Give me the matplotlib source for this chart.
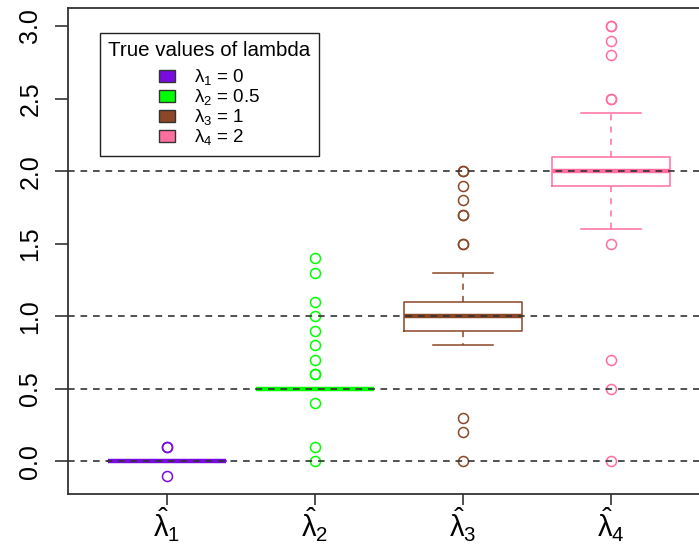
import matplotlib
matplotlib.use("Agg")
import matplotlib.pyplot as plt
from matplotlib.patches import Patch

plt.rcParams['font.family'] = ['Liberation Sans', 'DejaVu Sans']
plt.rcParams['mathtext.fontset'] = 'custom'
plt.rcParams['mathtext.rm'] = 'Liberation Sans'
plt.rcParams['mathtext.it'] = 'Liberation Sans:italic'

# true values of lambda and box colours
true_values = [0, 0.5, 1, 2]
colors = ['#7A0BE0', '#00FF00', '#8B4726', '#FF6E9E']
tick_labels = [r'$\hat{\mathrm{\lambda}}_1$', r'$\hat{\mathrm{\lambda}}_2$',
               r'$\hat{\mathrm{\lambda}}_3$', r'$\hat{\mathrm{\lambda}}_4$']
legend_labels = ['λ$_1$ = 0', 'λ$_2$ = 0.5', 'λ$_3$ = 1', 'λ$_4$ = 2']

# five-number summaries
q1 = [0, 0.5, 0.9, 1.9]
med = [0, 0.5, 1.0, 2.0]
q3 = [0, 0.5, 1.1, 2.1]
whislo = [0, 0.5, 0.8, 1.6]
whishi = [0, 0.5, 1.3, 2.4]
fliers = [
    [0.1, 0.1, -0.1],
    [1.4, 1.3, 1.1, 1.0, 0.9, 0.8, 0.7, 0.6, 0.6, 0.4, 0.1, 0.0],
    [2.0, 2.0, 1.9, 1.8, 1.7, 1.7, 1.5, 1.5, 0.3, 0.2, 0.0],
    [3.0, 3.0, 2.9, 2.8, 2.5, 2.5, 1.5, 0.7, 0.5, 0.0],
]

stats = []
for i in range(4):
    stats.append(dict(q1=q1[i], med=med[i], q3=q3[i], whislo=whislo[i],
                      whishi=whishi[i], fliers=fliers[i]))

fig = plt.figure(figsize=(6.99, 5.45), dpi=100)
ax = fig.add_axes([68/699, 51/545, 631/699, 486/545])

bp = ax.bxp(stats, positions=[1, 2, 3, 4], widths=0.8, capwidths=0.4,
            boxprops=dict(lw=1.1),
            whiskerprops=dict(lw=1.1, linestyle=(0, (4, 4))),
            capprops=dict(lw=1.1),
            medianprops=dict(lw=3.2, solid_capstyle='butt'),
            flierprops=dict(marker='o', markerfacecolor='none', markersize=7.2,
                            markeredgewidth=1.1))

for i, c in enumerate(colors):
    bp['boxes'][i].set_color(c)
    bp['medians'][i].set_color(c)
    bp['fliers'][i].set_markeredgecolor(c)
    for ln in bp['whiskers'][2*i:2*i+2] + bp['caps'][2*i:2*i+2]:
        ln.set_color(c)

for v in true_values:
    ax.axhline(v, color='#333333', lw=1.2, linestyle=(0, (4, 3.5)), zorder=5)

ax.set_xlim(0.331, 4.595)
ax.set_ylim(-0.224, 3.124)
ax.set_yticks([0, 0.5, 1.0, 1.5, 2.0, 2.5, 3.0])
ax.set_yticklabels(['0.0', '0.5', '1.0', '1.5', '2.0', '2.5', '3.0'],
                   rotation=90, va='center', fontsize=18)
ax.set_xticks([1, 2, 3, 4])
ax.set_xticklabels(tick_labels, fontsize=21)
ax.tick_params(axis='y', length=9.5, width=1.2, pad=9, color='#333333')
ax.tick_params(axis='x', length=8, width=1.2, pad=0, color='#333333')
for s in ['left', 'bottom', 'top']:
    ax.spines[s].set_color('#333333')
    ax.spines[s].set_linewidth(1.3)
ax.spines['right'].set_visible(False)

handles = [Patch(facecolor=c, edgecolor='#333333', lw=1.0) for c in colors]
leg = ax.legend(handles, legend_labels, title='True values of lambda',
                loc='upper left', bbox_to_anchor=(32/631, 1 - 25/486),
                fontsize=13.5, title_fontsize=14.8, fancybox=False,
                edgecolor='#222222', framealpha=1, borderpad=0.45,
                labelspacing=0.0, handlelength=0.85, handleheight=0.65,
                handletextpad=1.0, borderaxespad=0)
leg._legend_box.sep = 5
leg.get_frame().set_linewidth(1.0)

fig.savefig('out.png', dpi=100)
